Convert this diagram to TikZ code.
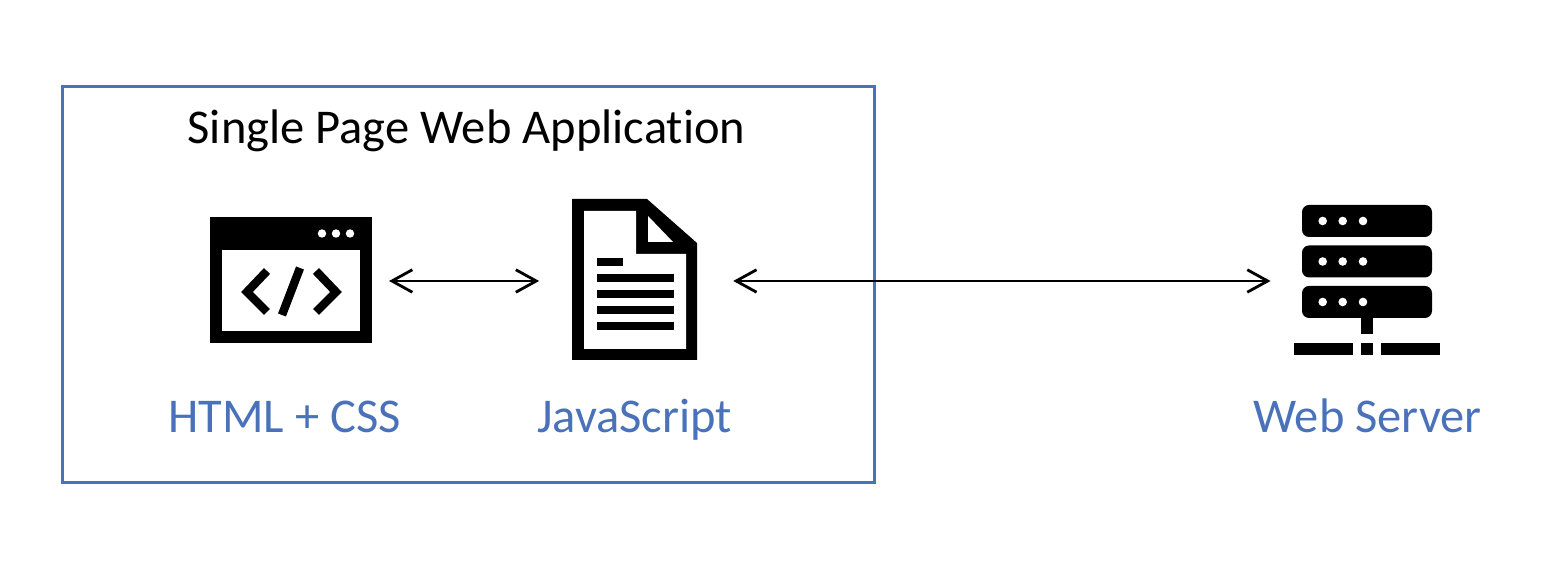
\documentclass[tikz,border=0pt]{standalone}
\usepackage{fontspec}
\setmainfont[Ligatures=NoCommon]{Carlito}
\usepackage{xcolor}
\usetikzlibrary{arrows.meta, positioning}
\definecolor{appblue}{HTML}{4A72BA}
\tikzstyle{appbox} = [rectangle, minimum width=8.115cm, minimum height=3.96cm, outer sep=0pt, draw=appblue, line width=0.85pt]
\tikzstyle{title} = [text=black, text height=10pt, text depth=3pt, font=\fontsize{13.8}{17}\selectfont]
\tikzstyle{label} = [text=appblue, text height=10pt, text depth=3pt, font=\fontsize{13.8}{17}\selectfont]
\tikzstyle{icon} = [rectangle, inner sep=0pt, outer sep=0pt]
\tikzstyle{ink} = [fill=black, draw=none]
\tikzstyle{hole} = [fill=white, draw=none]
\tikzstyle{glyph} = [draw=black, line width=2.4pt, line cap=butt, miter limit=10]
\tikzstyle{arrow} = [line width=0.8pt, {Straight Barb[length=5.8pt, width=6.4pt, line width=0.8pt]}-{Straight Barb[length=5.8pt, width=6.4pt, line width=0.8pt]}]

\begin{document}
\begin{tikzpicture}[x=0.01cm, y=-0.01cm, node distance=3.435cm]
    \useasboundingbox (0,0) rectangle (1562,586);

    \node (app) [appbox] at (468.75,284.5) {};
    \node (apptitle) [title] at (466.5,131.4) {Single Page Web Application};

    \node (htmlicon) [icon, minimum width=1.62cm, minimum height=1.26cm] at (291,281) {};
    \node (jsicon) [icon, minimum width=1.25cm, minimum height=1.61cm, right of=htmlicon] {};
    \node (servericon) [icon, minimum width=1.46cm, minimum height=1.5cm, right of=jsicon, xshift=3.89cm] {};

    \node (htmllabel) [label, below of=htmlicon, yshift=2.04cm, xshift=-0.065cm] {HTML + CSS};
    \node (jslabel) [label, below of=jsicon, yshift=2.04cm] {JavaScript};
    \node (serverlabel) [label, below of=servericon, yshift=2.04cm] {Web Server};

    % html window
    \fill [ink] (210,217) rectangle (372,343);
    \fill [hole] (222,250) rectangle (360,331);
    \foreach \x in {322,336,350}
        \fill [hole] (\x,233.5) circle (4.2);
    \draw [glyph] (267,271) -- (247,292) -- (267,312);
    \draw [glyph] (316,271) -- (336,292) -- (316,312);
    \draw [glyph] (300,268) -- (282,315);

    % script page
    \fill [ink] (572,199) -- (647,199) -- (697,243) -- (697,360) -- (572,360) -- cycle;
    \fill [hole] (584,211) -- (636,211) -- (636,254) -- (686,254) -- (686,349) -- (584,349) -- cycle;
    \fill [hole] (648,216) -- (673,242) -- (648,242) -- cycle;
    \fill [ink] (597,258) rectangle (623,266);
    \foreach \y in {274.5,290.5,306.5,322.5}
        \fill [ink] (597,\y) rectangle (674,\y+8);

    % server rack
    \foreach \y in {205,245.5,286} {
        \fill [ink, rounded corners=2pt] (1302,\y) rectangle (1432,\y+32);
        \foreach \x in {1322.7,1342.7,1363}
            \fill [hole] (\x,\y+16) circle (4.3);
    }
    \fill [ink] (1361,318) rectangle (1373,334);
    \fill [ink] (1294,343) rectangle (1353,355);
    \fill [ink] (1361,343) rectangle (1373,355);
    \fill [ink] (1381,343) rectangle (1440,355);

    \draw [arrow, shorten <=0.17cm, shorten >=0.33cm] (htmlicon) -- (jsicon);
    \draw [arrow, shorten <=0.36cm, shorten >=0.24cm] (jsicon) -- (servericon);
\end{tikzpicture}
\end{document}
